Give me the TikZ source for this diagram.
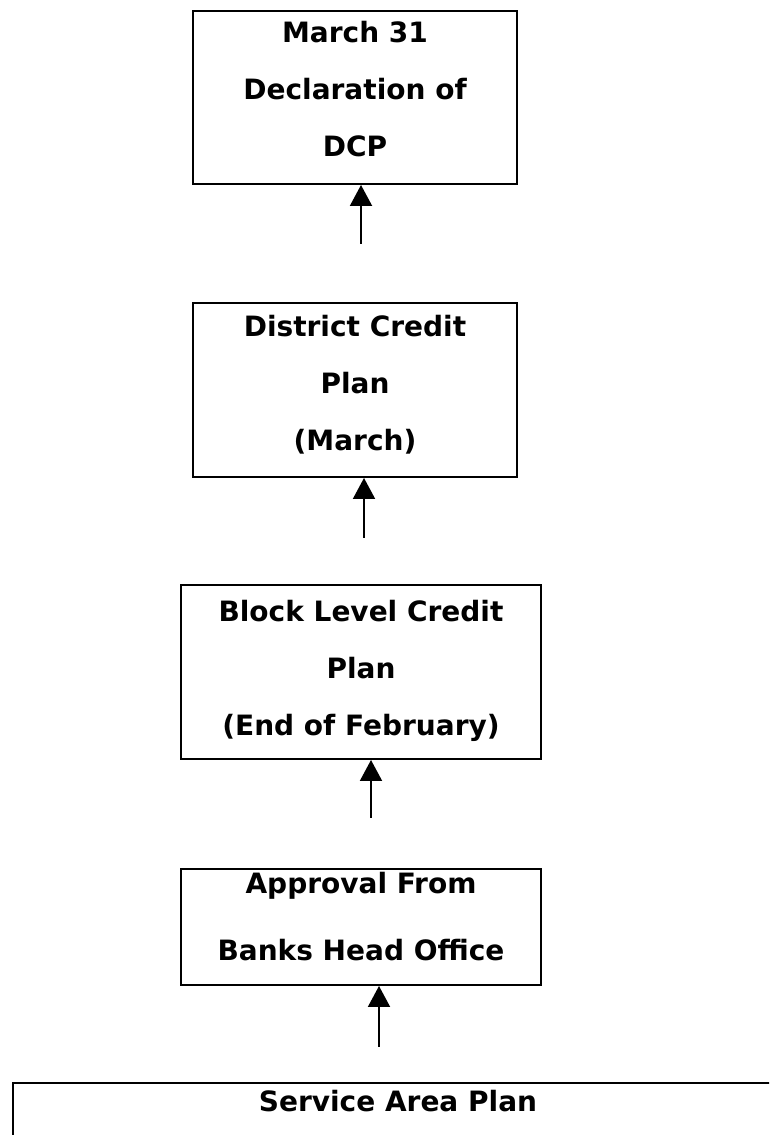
\documentclass[tikz,border=0pt]{standalone}
\usepackage{fontspec}
\setmainfont{DejaVu Sans}
\usetikzlibrary{arrows.meta,positioning}
% empty strut, pushes the text up inside a box
\newcommand{\padbelow}[1]{\rule[-#1]{0pt}{#1}}
\tikzset{
    %Define standard arrow tip
    >={Triangle[length=21pt,width=22pt]},
    %Define style for boxes
    stepbox/.style={
           rectangle,
           draw=black, line width=2pt,
           font=\bfseries\fontsize{28}{57}\selectfont,
           align=center,
           inner sep=0pt},
    % Define arrow style
    pil/.style={
           ->,
           line width=2pt}
}
\begin{document}
\begin{tikzpicture}[x=1pt,y=1pt,node distance=100pt]
\clip (0,0) rectangle (769,1135);

 %nodes
\node[stepbox, minimum width=324pt, minimum height=173pt] (dcp) at (355,1037.5)
    {March 31\\Declaration of\\DCP\padbelow{17pt}};
\node[stepbox, minimum width=324pt, minimum height=174pt, below=117pt of dcp] (district)
    {District Credit\\Plan\\(March)\padbelow{14pt}};
\node[stepbox, minimum width=360pt, minimum height=174pt, below=106pt of district, xshift=6pt] (block)
    {Block Level Credit\\Plan\\(End of February)\padbelow{9pt}};
\node[stepbox, minimum width=360pt, minimum height=116pt, below=108pt of block,
      font=\bfseries\fontsize{28}{67}\selectfont] (approval)
    {Approval From\\Banks Head Office\padbelow{22pt}};
\node[stepbox, minimum width=770pt, minimum height=100pt, below=96pt of approval, xshift=37pt,
      line width=2.4pt] (service)
    {Service Area Plan\padbelow{65pt}};

 %free ends of the arrows
\coordinate (f1) at (361,891);
\coordinate (f2) at (364,597);
\coordinate (f3) at (371,317);
\coordinate (f4) at (379,88);

\draw[pil] (f1) -- (f1 |- dcp.south);
\draw[pil] (f2) -- (f2 |- district.south);
\draw[pil] (f3) -- (f3 |- block.south);
\draw[pil] (f4) -- (f4 |- approval.south);

\end{tikzpicture}
\end{document}
